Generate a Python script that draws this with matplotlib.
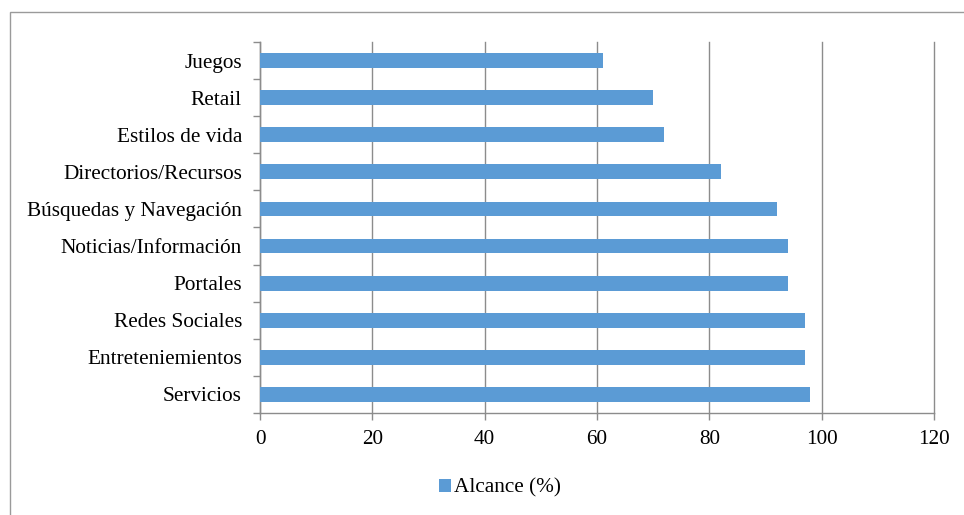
import matplotlib
matplotlib.use("agg")
import matplotlib.pyplot as plt
from matplotlib.patches import Rectangle

# Data (top to bottom as shown in the chart)
categories = [
    "Juegos",
    "Retail",
    "Estilos de vida",
    "Directorios/Recursos",
    "Búsquedas y Navegación",
    "Noticias/Información",
    "Portales",
    "Redes Sociales",
    "Entreteniemientos",
    "Servicios",
]
alcance = [61, 70, 72, 82, 92, 94, 94, 97, 97, 98]
x_ticks = [0, 20, 40, 60, 80, 100, 120]
series_name = "Alcance (%)"

plt.rcParams["font.family"] = ["Liberation Serif", "DejaVu Serif"]
plt.rcParams["font.size"] = 15.3

bar_color = "#5B9BD5"
grid_color = "#8c8c8c"

fig = plt.figure(figsize=(9.64, 5.15), dpi=100)
ax = fig.add_axes([260 / 964, 1 - 413 / 515, 674 / 964, 371 / 515])

# outer chart frame (runs off the right and bottom edge in the original)
fig.patches.append(Rectangle((10 / 964, -0.1), 1.2, 1 - 12 / 515 + 0.1,
                             transform=fig.transFigure, fill=False,
                             edgecolor="#9a9a9a", linewidth=1.0))

pos = list(range(len(categories)))
bars = ax.barh(pos, alcance, height=0.4, color=bar_color, label=series_name,
               zorder=3)
ax.set_ylim(len(categories) - 0.5, -0.5)
ax.set_xlim(0, 120)

ax.set_yticks(pos)
ax.set_yticklabels(categories)
ax.set_yticks([p - 0.5 for p in pos] + [len(pos) - 0.5], minor=True)
ax.tick_params(axis="y", which="major", length=0, pad=13)
ax.tick_params(axis="y", which="minor", length=5, color=grid_color, width=1)

ax.set_xticks(x_ticks)
ax.tick_params(axis="x", which="major", length=5, color=grid_color, width=1,
               pad=7)
ax.xaxis.grid(True, color=grid_color, linewidth=1, zorder=0)
ax.set_axisbelow(True)
for gl in ax.get_xgridlines():
    gl.set_clip_on(False)

for side in ["top", "right"]:
    ax.spines[side].set_visible(False)
for side in ["left", "bottom"]:
    ax.spines[side].set_color(grid_color)
    ax.spines[side].set_linewidth(1)

fig.legend(handles=[bars], labels=[series_name], loc="center",
           bbox_to_anchor=(500 / 964, 1 - 488 / 515), frameon=False,
           handlelength=0.55, handleheight=0.55, handletextpad=0.15)

fig.savefig("out.png", dpi=100)
